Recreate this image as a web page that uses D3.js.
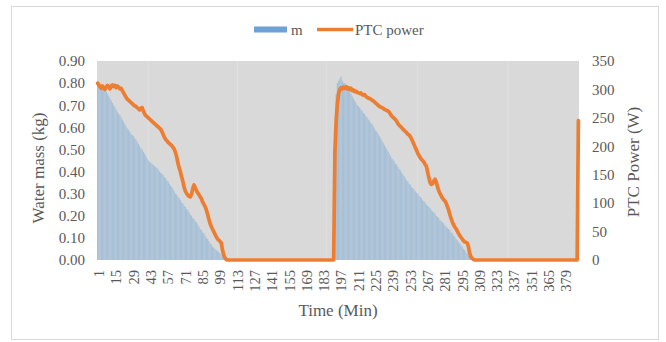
<!DOCTYPE html>
<html>
<head>
<meta charset="utf-8">
<script src="https://cdn.jsdelivr.net/npm/d3@7"></script>
<style>
  body { margin: 0; background: #fff; }
  text { font-family: "Liberation Serif", "Times New Roman", serif; fill: #595959; }
</style>
</head>
<body>
<svg id="chart" width="666" height="342"></svg>
<script>
// water mass m (kg), one value per minute, rows of 14 minutes (1, 15, 29, ...)
const mass = [
  0.80, 0.80, 0.79, 0.79, 0.78, 0.78, 0.77, 0.76, 0.75, 0.74, 0.73, 0.72, 0.71, 0.70,
  0.69, 0.68, 0.67, 0.66, 0.655, 0.645, 0.635, 0.625, 0.615, 0.605, 0.595, 0.59, 0.58, 0.57,
  0.565, 0.56, 0.55, 0.545, 0.535, 0.525, 0.515, 0.505, 0.50, 0.49, 0.48, 0.47, 0.46, 0.45,
  0.445, 0.44, 0.435, 0.43, 0.425, 0.42, 0.415, 0.41, 0.40, 0.395, 0.39, 0.385, 0.375, 0.37,
  0.36, 0.355, 0.345, 0.335, 0.33, 0.32, 0.31, 0.30, 0.295, 0.285, 0.28, 0.27, 0.26, 0.255,
  0.245, 0.24, 0.23, 0.225, 0.215, 0.205, 0.20, 0.19, 0.185, 0.175, 0.17, 0.16, 0.15, 0.14,
  0.135, 0.125, 0.12, 0.11, 0.10, 0.095, 0.085, 0.075, 0.07, 0.06, 0.055, 0.05, 0.045, 0.04,
  0.035, 0.03, 0.025, 0.02, 0.015, 0.008, 0.004, 0, 0, 0, 0, 0, 0, 0,
  0, 0, 0, 0, 0, 0, 0, 0, 0, 0, 0, 0, 0, 0,
  0, 0, 0, 0, 0, 0, 0, 0, 0, 0, 0, 0, 0, 0,
  0, 0, 0, 0, 0, 0, 0, 0, 0, 0, 0, 0, 0, 0,
  0, 0, 0, 0, 0, 0, 0, 0, 0, 0, 0, 0, 0, 0,
  0, 0, 0, 0, 0, 0, 0, 0, 0, 0, 0, 0, 0, 0,
  0, 0, 0, 0, 0, 0, 0, 0, 0, 0, 0, 0.75, 0.80, 0.81,
  0.82, 0.83, 0.81, 0.80, 0.80, 0.79, 0.78, 0.77, 0.76, 0.75, 0.74, 0.73, 0.72, 0.71,
  0.70, 0.695, 0.69, 0.68, 0.675, 0.665, 0.66, 0.65, 0.645, 0.635, 0.63, 0.62, 0.615, 0.605,
  0.595, 0.585, 0.58, 0.57, 0.56, 0.55, 0.54, 0.53, 0.52, 0.51, 0.50, 0.49, 0.48, 0.47,
  0.46, 0.455, 0.445, 0.435, 0.43, 0.42, 0.41, 0.405, 0.395, 0.385, 0.38, 0.37, 0.36, 0.355,
  0.345, 0.34, 0.33, 0.325, 0.32, 0.31, 0.305, 0.30, 0.29, 0.285, 0.28, 0.27, 0.265, 0.26,
  0.25, 0.245, 0.24, 0.235, 0.225, 0.22, 0.215, 0.21, 0.20, 0.195, 0.19, 0.18, 0.175, 0.17,
  0.165, 0.155, 0.15, 0.145, 0.14, 0.135, 0.125, 0.12, 0.11, 0.105, 0.095, 0.09, 0.08, 0.075,
  0.065, 0.06, 0.05, 0.045, 0.035, 0.03, 0.02, 0.015, 0.008, 0.004, 0, 0, 0, 0,
  0, 0, 0, 0, 0, 0, 0, 0, 0, 0, 0, 0, 0, 0,
  0, 0, 0, 0, 0, 0, 0, 0, 0, 0, 0, 0, 0, 0,
  0, 0, 0, 0, 0, 0, 0, 0, 0, 0, 0, 0, 0, 0,
  0, 0, 0, 0, 0, 0, 0, 0, 0, 0, 0, 0, 0, 0,
  0, 0, 0, 0, 0, 0, 0, 0, 0, 0, 0, 0, 0, 0,
  0, 0, 0, 0, 0, 0, 0, 0, 0, 0, 0, 0
]

// PTC power (W), same minutes
const power = [
  311, 308, 305, 302, 306, 303, 300, 304, 307, 305, 301, 306, 308, 305,
  307, 303, 306, 304, 301, 302, 298, 294, 290, 286, 283, 281, 279, 277,
  275, 273, 271, 270, 268, 266, 264, 267, 268, 262, 257, 254, 252, 250,
  248, 246, 244, 242, 240, 238, 236, 234, 232, 230, 226, 221, 216, 212,
  210, 207, 205, 203, 201, 198, 195, 189, 181, 170, 162, 155, 146, 138,
  128, 121, 117, 114, 112, 111, 116, 126, 132, 127, 122, 118, 115, 111,
  108, 102, 98, 94, 88, 80, 72, 64, 59, 54, 50, 45, 41, 37,
  35, 33, 30, 18, 9, 4, 1, 0, 0, 0, 0, 0, 0, 0,
  0, 0, 0, 0, 0, 0, 0, 0, 0, 0, 0, 0, 0, 0,
  0, 0, 0, 0, 0, 0, 0, 0, 0, 0, 0, 0, 0, 0,
  0, 0, 0, 0, 0, 0, 0, 0, 0, 0, 0, 0, 0, 0,
  0, 0, 0, 0, 0, 0, 0, 0, 0, 0, 0, 0, 0, 0,
  0, 0, 0, 0, 0, 0, 0, 0, 0, 0, 0, 0, 0, 0,
  0, 0, 0, 0, 0, 0, 0, 0, 0, 0, 190, 245, 275, 293,
  300, 303, 301, 304, 302, 305, 301, 303, 300, 302, 298, 299, 296, 297,
  295, 294, 293, 294, 291, 290, 291, 288, 286, 285, 284, 283, 281, 280,
  278, 276, 274, 272, 270, 269, 268, 267, 265, 264, 263, 262, 260, 256,
  253, 251, 249, 247, 244, 240, 237, 235, 233, 230, 228, 226, 224, 221,
  220, 217, 213, 208, 203, 198, 193, 188, 184, 180, 177, 175, 172, 168,
  165, 155, 145, 136, 133, 134, 139, 142, 137, 129, 122, 117, 113, 109,
  106, 104, 100, 94, 88, 80, 73, 67, 62, 58, 55, 51, 47, 43,
  40, 37, 34, 32, 31, 30, 24, 12, 6, 3, 1, 0, 0, 0,
  0, 0, 0, 0, 0, 0, 0, 0, 0, 0, 0, 0, 0, 0,
  0, 0, 0, 0, 0, 0, 0, 0, 0, 0, 0, 0, 0, 0,
  0, 0, 0, 0, 0, 0, 0, 0, 0, 0, 0, 0, 0, 0,
  0, 0, 0, 0, 0, 0, 0, 0, 0, 0, 0, 0, 0, 0,
  0, 0, 0, 0, 0, 0, 0, 0, 0, 0, 0, 0, 0, 0,
  0, 0, 0, 0, 0, 0, 0, 0, 0, 0, 0, 245
]

const minutes = d3.range(1, mass.length + 1)
const xTickLabels = [1, 15, 29, 43, 57, 71, 85, 99, 113, 127, 141, 155, 169, 183, 197,
  211, 225, 239, 253, 267, 281, 295, 309, 323, 337, 351, 365, 379]
const massTicks = [0, 0.1, 0.2, 0.3, 0.4, 0.5, 0.6, 0.7, 0.8, 0.9]
const powerTicks = [0, 50, 100, 150, 200, 250, 300, 350]
const faintLines = [42, 114, 186, 260, 333]   // light vertical streaks in the plot area

const svg = d3.select("#chart")
const LEFT = 97, RIGHT = 579, TOP = 61, BOTTOM = 260

// frame round the whole chart
svg.append("rect")
  .attr("x", 11.5).attr("y", 6.5).attr("width", 647).attr("height", 333)
  .style("fill", "none").style("stroke", "#d9d9d9")

let x = d3.scaleBand().domain(minutes).range([LEFT, RIGHT]).padding(0)
const bw = x.bandwidth()
let yMass = d3.scaleLinear().domain([0, 0.9]).range([BOTTOM, TOP])
let yPower = d3.scaleLinear().domain([0, 350]).range([BOTTOM, TOP])

// plot area
svg.append("rect")
  .attr("x", LEFT).attr("y", TOP).attr("width", RIGHT - LEFT).attr("height", BOTTOM - TOP)
  .style("fill", "#d9d9d9")

svg.append("g").selectAll("line").data(faintLines).join("line")
  .attr("x1", d => x(d) + bw / 2).attr("x2", d => x(d) + bw / 2)
  .attr("y1", TOP).attr("y2", BOTTOM)
  .style("stroke", "#e1e1e1").style("stroke-width", 1)

// bars for m
svg.append("g").style("opacity", 0.4)
  .selectAll("rect").data(minutes.filter((t, i) => mass[i] > 0)).join("rect")
  .attr("x", t => x(t))
  .attr("y", t => yMass(mass[t - 1]))
  .attr("width", bw)
  .attr("height", t => BOTTOM - yMass(mass[t - 1]))
  .style("fill", "#5b9bd5")

// PTC power line
let line = d3.line()
  .x(t => x(t) + bw / 2)
  .y(t => yPower(power[t - 1]))
svg.append("path")
  .datum(minutes)
  .attr("d", line)
  .style("fill", "none")
  .style("stroke", "#ed7d31")
  .style("stroke-width", 3.7)
  .style("stroke-linejoin", "round")
  .style("stroke-linecap", "round")

// axes
let leftAxis = svg.append("g")
  .attr("transform", "translate(" + LEFT + ",0)")
  .call(d3.axisLeft(yMass).tickValues(massTicks).tickFormat(d3.format(".2f")).tickSize(0).tickPadding(12))
leftAxis.select(".domain").remove()
leftAxis.selectAll("text").style("font-size", "15px")

let rightAxis = svg.append("g")
  .attr("transform", "translate(" + RIGHT + ",0)")
  .call(d3.axisRight(yPower).tickValues(powerTicks).tickSize(0).tickPadding(13))
rightAxis.select(".domain").remove()
rightAxis.selectAll("text").style("font-size", "15px")

let bottomAxis = svg.append("g")
  .attr("transform", "translate(0," + BOTTOM + ")")
  .call(d3.axisBottom(x).tickValues(xTickLabels).tickSize(0))
bottomAxis.select(".domain").remove()
bottomAxis.selectAll("text")
  .attr("transform", "rotate(-90)")
  .attr("x", -10).attr("y", 1.5).attr("dy", "0.35em")
  .attr("text-anchor", "end")
  .style("font-size", "14.5px")
svg.selectAll(".tick text").attr("fill", null).attr("font-family", null)

// titles
svg.append("text")
  .attr("transform", "translate(38,168) rotate(-90)")
  .attr("text-anchor", "middle").attr("dominant-baseline", "central")
  .style("font-size", "17px")
  .text("Water mass (kg)")
svg.append("text")
  .attr("transform", "translate(633,162) rotate(-90)")
  .attr("text-anchor", "middle").attr("dominant-baseline", "central")
  .style("font-size", "17px")
  .text("PTC Power (W)")
svg.append("text")
  .attr("x", 338).attr("y", 310)
  .attr("text-anchor", "middle").attr("dominant-baseline", "central")
  .style("font-size", "17px")
  .text("Time (Min)")

// legend
svg.append("rect")
  .attr("x", 254).attr("y", 26.5).attr("width", 33).attr("height", 6)
  .style("fill", "#6ea2d6")
svg.append("text")
  .attr("x", 291).attr("y", 29.5).attr("dominant-baseline", "central")
  .style("font-size", "15px")
  .text("m")
svg.append("line")
  .attr("x1", 317).attr("x2", 353).attr("y1", 29.5).attr("y2", 29.5)
  .style("stroke", "#ed7d31").style("stroke-width", 3.5)
svg.append("text")
  .attr("x", 355).attr("y", 29.5).attr("dominant-baseline", "central")
  .style("font-size", "15px")
  .text("PTC power")
</script>
</body>
</html>
